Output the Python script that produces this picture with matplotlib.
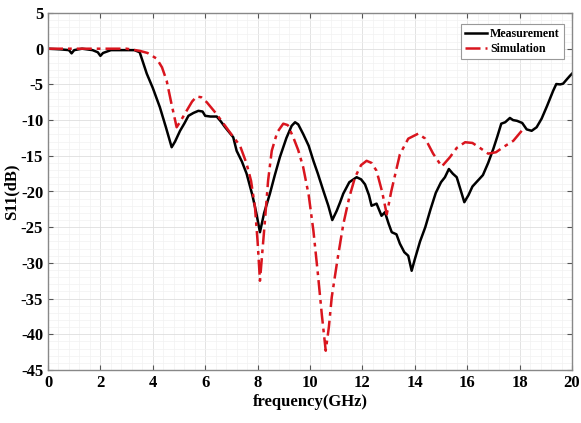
import matplotlib.pyplot as plt
from matplotlib.ticker import MultipleLocator

# measured S11 (GHz, dB)
meas_f = [0.0, 0.5, 0.8, 0.9, 1.0, 1.3, 1.7, 1.9, 2.0, 2.1, 2.4, 2.8, 3.0, 3.3,
          3.5, 3.77, 4.0, 4.27, 4.5, 4.72, 4.85, 5.04, 5.2, 5.36, 5.55, 5.74,
          5.9, 6.0, 6.2, 6.44, 6.6, 6.76, 7.07, 7.2, 7.4, 7.58, 7.8, 7.95, 8.09,
          8.25, 8.47, 8.65, 8.85, 9.1, 9.3, 9.43, 9.55, 9.74, 9.95, 10.13, 10.3,
          10.51, 10.7, 10.85, 11.02, 11.15, 11.27, 11.5, 11.78, 11.95, 12.1,
          12.25, 12.35, 12.54, 12.73, 12.86, 13.0, 13.12, 13.3, 13.43, 13.6,
          13.75, 13.88, 14.0, 14.2, 14.4, 14.6, 14.8, 15.0, 15.15, 15.3, 15.45,
          15.6, 15.75, 15.89, 16.05, 16.2, 16.4, 16.6, 16.8, 17.0, 17.15, 17.3,
          17.45, 17.63, 17.75, 17.9, 18.1, 18.27, 18.46, 18.65, 18.84, 19.05,
          19.28, 19.4, 19.55, 19.66, 19.8, 19.92, 20.0]
meas_s = [0.0, -0.1, -0.2, -0.65, -0.2, 0.0, -0.2, -0.5, -1.0, -0.6, -0.2, -0.2, -0.2, -0.2,
          -0.5, -3.5, -5.5, -8.2, -11.0, -13.8, -13.0, -11.5, -10.5, -9.4, -9.0, -8.7,
          -8.8, -9.4, -9.5, -9.5, -10.2, -11.0, -12.4, -14.3, -15.8, -17.5, -20.5, -23.0, -25.7,
          -23.0, -20.3, -17.8, -15.2, -12.5, -10.8, -10.3, -10.6, -11.95, -13.6, -15.7, -17.5,
          -19.9, -22.0, -24.0, -22.7, -21.5, -20.3, -18.7, -18.0, -18.3, -19.0,
          -20.5, -22.0, -21.7, -23.4, -22.9, -24.5, -25.7, -26.0, -27.3, -28.5,
          -29.0, -31.1, -29.5, -27.0, -25.0, -22.5, -20.2, -18.7, -18.0, -16.85, -17.5,
          -18.0, -19.8, -21.5, -20.5, -19.3, -18.5, -17.7, -16.0, -14.0, -12.3, -10.5,
          -10.3, -9.7, -10.0, -10.1, -10.4, -11.3, -11.5, -11.0, -9.8, -8.0,
          -5.9, -4.95, -5.0, -4.9, -4.3, -3.8, -3.5]

# simulated S11 (GHz, dB)
sim_f = [0.0, 1.0, 2.0, 3.0, 3.5, 3.8, 4.15, 4.35, 4.53, 4.7, 4.91, 5.05, 5.29,
         5.5, 5.67, 5.85, 6.06, 6.4, 6.7, 7.0, 7.33, 7.58, 7.75, 7.9, 8.0, 8.09,
         8.18, 8.28, 8.4, 8.54, 8.75, 8.98, 9.15, 9.36, 9.55, 9.74, 9.95, 10.13,
         10.3, 10.45, 10.6, 10.72, 10.83, 11.05, 11.27, 11.5, 11.72, 11.95, 12.16,
         12.35, 12.54, 12.75, 12.93, 13.1, 13.43, 13.75, 14.13, 14.4, 14.7, 15.03,
         15.34, 15.6, 15.92, 16.2, 16.49, 16.8, 17.1, 17.37, 17.76, 18.08]
sim_s = [0.0, 0.0, 0.0, 0.0, -0.3, -0.6, -1.4, -2.6, -4.5, -7.5, -11.0, -10.2, -8.7,
         -7.4, -6.7, -6.8, -7.5, -9.0, -10.5, -12.0, -13.6, -16.1, -18.5, -22.2, -27.0, -32.5,
         -28.5, -24.1, -18.5, -14.3, -11.7, -10.5, -10.7, -12.4, -14.2, -16.6, -20.5, -25.5,
         -31.5, -37.2, -42.3, -39.0, -34.8, -29.5, -24.6, -20.8, -18.0, -16.3, -15.7,
         -16.0, -17.1, -20.0, -23.2, -20.0, -14.8, -12.6, -11.9, -12.6, -14.7, -16.5,
         -15.2, -13.9, -13.1, -13.2, -13.9, -14.7, -14.5, -13.8, -12.9, -11.5]

plt.rcParams['font.family'] = ['Liberation Serif', 'DejaVu Serif']
plt.rcParams['font.weight'] = 'bold'
plt.rcParams['axes.unicode_minus'] = False

fig = plt.figure(figsize=(5.81, 4.23), dpi=100)
ax = fig.add_axes([48 / 581, 1 - 370 / 423, 524 / 581, 357 / 423])

ax.plot(meas_f, meas_s, color='black', lw=1.8, label='Measurement')
ax.plot(sim_f, sim_s, color='#d9151e', lw=1.8, ls=(0, (6, 2, 1.5, 2)), label='Simulation')

ax.set_xlim(0, 20)
ax.set_ylim(-45, 5)
ax.xaxis.set_major_locator(MultipleLocator(2))
ax.yaxis.set_major_locator(MultipleLocator(5))
ax.xaxis.set_minor_locator(MultipleLocator(0.4))
ax.yaxis.set_minor_locator(MultipleLocator(1))
ax.grid(True, which='major', color='#dedede', lw=0.6)
ax.grid(True, which='minor', color='#f1f1f1', lw=0.5)
ax.set_axisbelow(True)
ax.tick_params(which='both', direction='in', top=True, right=True, labelsize=12, color='#555555')
ax.tick_params(which='minor', length=0)
for s in ax.spines.values():
    s.set_color('#888888')
    s.set_linewidth(1.0)

ax.set_xlabel('frequency(GHz)', fontsize=12, fontweight='bold', labelpad=2)
ax.set_ylabel('S11(dB)', fontsize=12, fontweight='bold', labelpad=1)

leg = ax.legend(loc='upper right', fontsize=8.6, handlelength=1.8, handletextpad=0.3,
                borderpad=0.35, labelspacing=0.25, fancybox=False, framealpha=1,
                edgecolor='#999999', borderaxespad=0, bbox_to_anchor=(0.985, 0.969))
leg.get_frame().set_linewidth(0.8)

fig.savefig('out.png', dpi=100)
